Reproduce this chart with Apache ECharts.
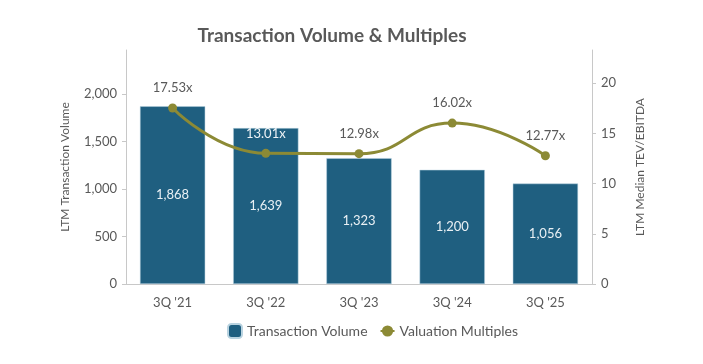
<!DOCTYPE html>
<html><head><meta charset="utf-8">
<script src="https://cdn.jsdelivr.net/npm/echarts@6/dist/echarts.min.js"></script>
<style>html,body{margin:0;padding:0;background:#fff}#c{width:703px;height:364px}</style>
</head><body><div id="c"></div>
<script>
const categories = ["3Q '21", "3Q '22", "3Q '23", "3Q '24", "3Q '25"];
const volumes = [1868, 1639, 1323, 1200, 1056];
const multiples = [17.53, 13.01, 12.98, 16.02, 12.77];

const chart = echarts.init(document.getElementById('c'));
const txt = '#595959';
chart.setOption({
  animation: false,
  textStyle: { fontFamily: 'Lato' },
  title: {
    text: 'Transaction Volume & Multiples',
    left: 327, top: 21, textAlign: 'center',
    textStyle: { fontFamily: 'Lato', fontSize: 19, fontWeight: 'bold', color: '#595959' }
  },
  grid: { left: 126, right: 111, top: 50, bottom: 80 },
  legend: {
    bottom: 20, left: 222,
    itemGap: 12, itemWidth: 14, itemHeight: 14,
    textStyle: { fontSize: 14, color: txt },
    data: [
      { name: 'Transaction Volume', icon: 'roundRect' },
      { name: 'Valuation Multiples' }
    ]
  },
  xAxis: {
    type: 'category', data: categories,
    axisLine: { lineStyle: { color: '#c8c8c8' } },
    axisTick: { alignWithLabel: true, lineStyle: { color: '#c8c8c8' } },
    axisLabel: { color: txt, fontSize: 13, margin: 12 }
  },
  yAxis: [
    {
      type: 'value', min: 0, max: 2460, interval: 500,
      name: 'LTM Transaction Volume', nameLocation: 'middle', nameGap: 55,
      nameTextStyle: { color: txt, fontSize: 12 },
      axisLine: { show: true, lineStyle: { color: '#c8c8c8' } },
      axisTick: { show: true, length: 4, lineStyle: { color: '#c8c8c8' } },
      axisLabel: { color: txt, fontSize: 13, margin: 9, showMaxLabel: false,
        formatter: v => v.toLocaleString('en-US') },
      splitLine: { show: false }
    },
    {
      type: 'value', min: 0, max: 23.3, interval: 5,
      name: 'LTM Median TEV/EBITDA', nameLocation: 'middle', nameGap: 42,
      nameTextStyle: { color: txt, fontSize: 12 },
      axisLine: { show: true, lineStyle: { color: '#c8c8c8' } },
      axisTick: { show: true, length: 4, lineStyle: { color: '#c8c8c8' } },
      axisLabel: { color: txt, fontSize: 13, margin: 9, showMaxLabel: false },
      splitLine: { show: false }
    }
  ],
  series: [
    {
      name: 'Transaction Volume', type: 'bar', data: volumes, barWidth: '70%',
      itemStyle: { color: '#1f5f80', borderColor: '#b9d3e0', borderWidth: 0.5 },
      label: { show: true, position: 'inside', color: '#e9f0f4', fontSize: 13,
        formatter: p => p.value.toLocaleString('en-US') }
    },
    {
      name: 'Valuation Multiples', type: 'line', yAxisIndex: 1,
      data: multiples.map((v, i) => i === 1
        ? { value: v, label: { color: '#eef3f6' } } : v),
      smooth: 0.5, symbol: 'circle', symbolSize: 9,
      lineStyle: { color: '#8c8a35', width: 3 },
      itemStyle: { color: '#8c8a35' },
      label: { show: true, position: 'top', distance: 9, color: txt, fontSize: 13,
        formatter: p => p.value.toFixed(2) + 'x' }
    }
  ]
});
</script></body></html>
